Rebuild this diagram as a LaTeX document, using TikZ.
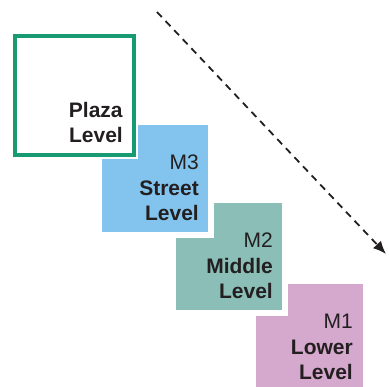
\documentclass[tikz,border=0pt]{standalone}
\usepackage{fontspec}
\setmainfont{Liberation Sans}
\usetikzlibrary{arrows.meta}
\definecolor{plazagreen}{RGB}{24,155,114}
\definecolor{streetblue}{RGB}{130,196,237}
\definecolor{middleteal}{RGB}{138,190,182}
\definecolor{lowerpink}{RGB}{213,168,205}
\definecolor{inkdark}{RGB}{35,31,32}
\tikzset{
  halo/.style={fill=white, draw=none},
  levellabel/.style={anchor=base east, align=right, inner sep=0pt, text=inkdark,
    font=\fontsize{21}{25.5}\selectfont},
  flowarrow/.style={draw=inkdark, line width=1.8pt, dash pattern=on 7pt off 5.5pt,
    -{Latex[length=13pt,width=11pt]}}
}
\begin{document}
\begin{tikzpicture}[x=1pt,y=-1pt]
\useasboundingbox (0,0) rectangle (389,387);
% M1 lower level
\fill[lowerpink] (256,284) rectangle (363,387);
% M2 middle level with white halo
\fill[halo] (170,197) rectangle (288,316);
\fill[middleteal] (176,203) rectangle (282,310);
% M3 street level with white halo
\fill[halo] (96,119) rectangle (214,238);
\fill[streetblue] (102,125) rectangle (208,232);
% Plaza level
\fill[halo] (11,32) rectangle (138,159);
\draw[plazagreen, line width=4pt, fill=white] (15,36) rectangle (134,155);
% labels (anchored at the baseline of the last line)
\node[levellabel] (plaza) at (123,143) {\textbf{Plaza}\\\textbf{Level}};
\node[levellabel] (street) at (199,221) {M3\\\textbf{Street}\\\textbf{Level}};
\node[levellabel] (middle) at (273,299) {M2\\\textbf{Middle}\\\textbf{Level}};
\node[levellabel] (lower) at (353,380) {M1\\\textbf{Lower}\\\textbf{Level}};
% arrow
\coordinate (astart) at (157,12);
\coordinate (aend) at (386,254);
\draw[flowarrow] (astart) -- (aend);
\end{tikzpicture}
\end{document}
